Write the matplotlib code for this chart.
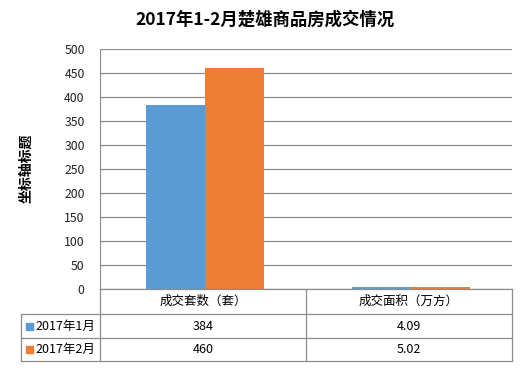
import matplotlib
matplotlib.use("Agg")
import matplotlib.pyplot as plt
from matplotlib.lines import Line2D
from matplotlib.patches import Rectangle
import numpy as np

plt.rcParams['font.family'] = ['Noto Sans CJK SC', 'DejaVu Sans']

title = "2017年1-2月楚雄商品房成交情况"
categories = ["成交套数（套）", "成交面积（万方）"]
series_names = ["2017年1月", "2017年2月"]
jan_values = [384, 4.09]
feb_values = [460, 5.02]
value_labels = [["384", "4.09"], ["460", "5.02"]]
colors = ["#5B9BD5", "#ED7D31"]
y_ticks = [0, 50, 100, 150, 200, 250, 300, 350, 400, 450, 500]

W, H = 530, 368
fig = plt.figure(figsize=(W / 100, H / 100), dpi=100)

x0, x1, ytop, ybot = 100, 512, 49, 289
ax = fig.add_axes([x0 / W, 1 - ybot / H, (x1 - x0) / W, (ybot - ytop) / H])

xs = np.arange(len(categories))
bw = 0.288
ax.bar(xs - bw / 2 + 0.01, jan_values, bw, color=colors[0], zorder=3)
ax.bar(xs + bw / 2 + 0.01, feb_values, bw, color=colors[1], zorder=3)
ax.set_xlim(-0.5, len(categories) - 0.5)
ax.set_ylim(0, 500)
ax.set_yticks(y_ticks)
ax.set_yticklabels([str(t) for t in y_ticks], fontsize=8.8, color="#222222")
ax.tick_params(axis='y', length=0, pad=11)
ax.set_xticks([])
ax.grid(axis='y', color="#8c8c8c", linewidth=0.9, zorder=0)
for s in ['top', 'right', 'bottom']:
    ax.spines[s].set_visible(False)
ax.spines['left'].set_color("#8c8c8c")

fig.text(265 / W, 1 - 20 / H, title, ha='center', va='center', fontsize=12.5, fontweight='bold')
fig.text(26 / W, 1 - 168 / H, "坐标轴标题", rotation=90, ha='center', va='center',
         fontsize=10, fontweight='bold')

# Data table
lc = "#8c8c8c"
def hline(y, xa, xb):
    fig.add_artist(Line2D([xa / W, xb / W], [1 - y / H, 1 - y / H], color=lc, lw=0.9))
def vline(x, ya, yb):
    fig.add_artist(Line2D([x / W, x / W], [1 - ya / H, 1 - yb / H], color=lc, lw=0.9))

row_y = [289, 314, 338, 361]
legend_x = 21
hline(row_y[0], x0, x1)
hline(row_y[1], legend_x, x1)
hline(row_y[2], legend_x, x1)
hline(row_y[3], legend_x, x1)
vline(x0, row_y[0], row_y[3])
vline(x1, row_y[0], row_y[3])
vline(legend_x, row_y[1], row_y[3])
colw = (x1 - x0) / len(categories)
for i in range(1, len(categories)):
    vline(x0 + i * colw, row_y[0], row_y[3])

for i, c in enumerate(categories):
    fig.text((x0 + colw * (i + 0.5)) / W, 1 - (row_y[0] + row_y[1]) / 2 / H, c,
             ha='center', va='center', fontsize=9)
for r, name in enumerate(series_names):
    yc = (row_y[r + 1] + row_y[r + 2]) / 2
    fig.add_artist(Rectangle((26 / W, 1 - (yc + 3.5) / H), 7 / W, 7 / H,
                             color=colors[r], transform=fig.transFigure))
    fig.text(35 / W, 1 - yc / H, name, ha='left', va='center', fontsize=9)
    for i in range(len(categories)):
        fig.text((x0 + colw * (i + 0.5)) / W, 1 - yc / H, value_labels[r][i],
                 ha='center', va='center', fontsize=9)

fig.savefig("out.png", dpi=100)
